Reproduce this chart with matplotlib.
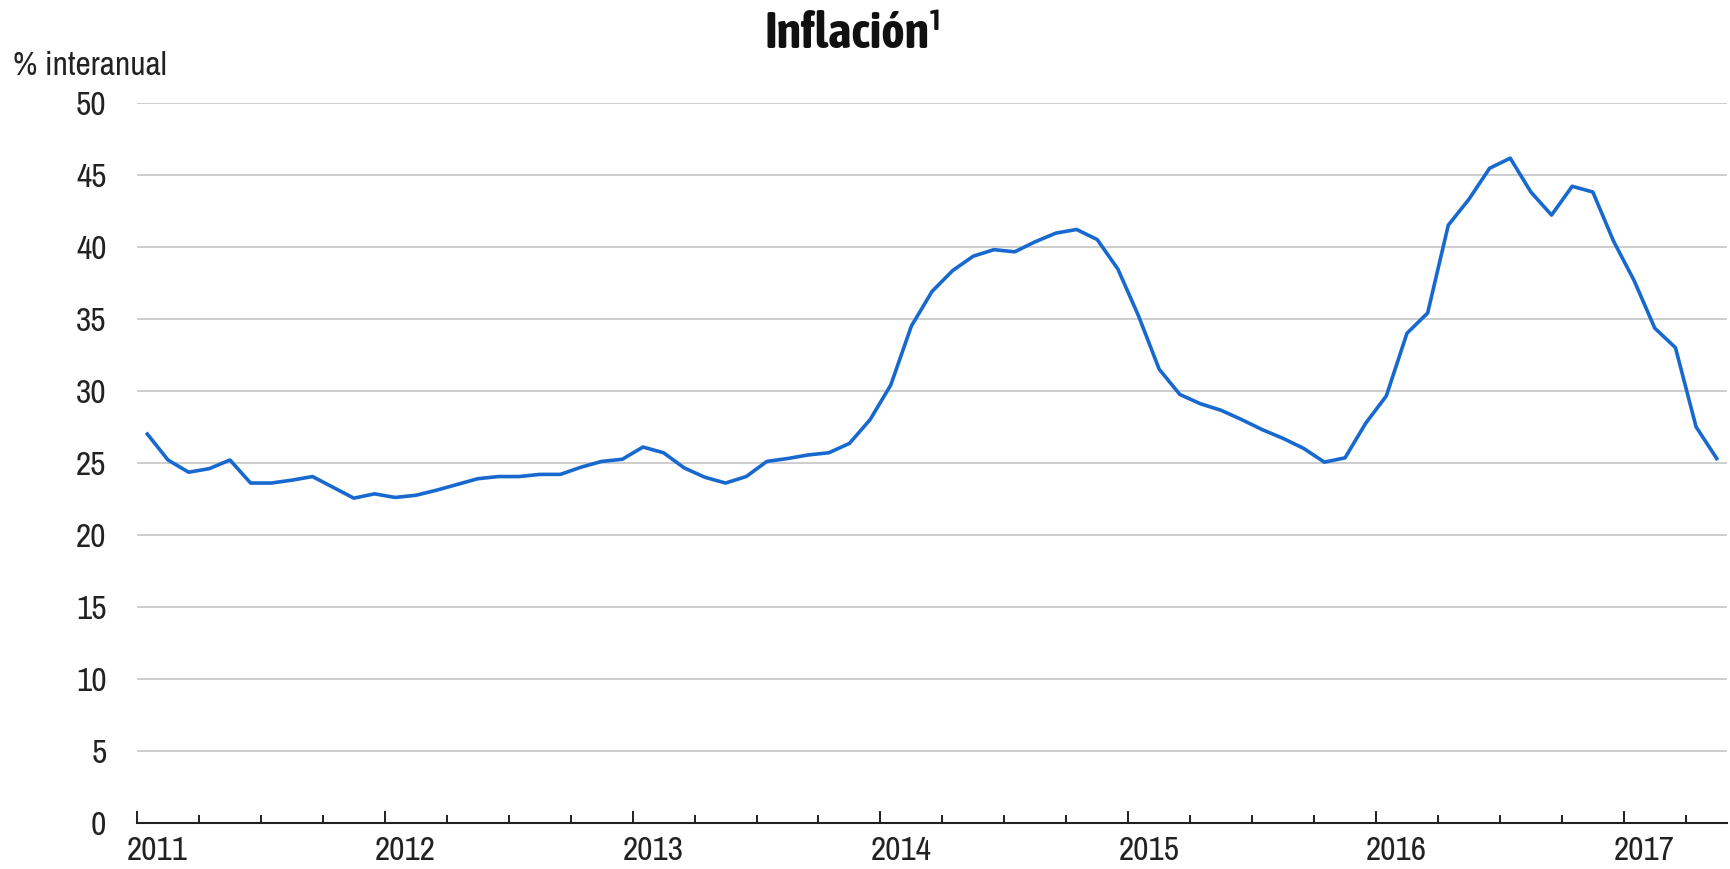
import numpy as np
import matplotlib
matplotlib.use('Agg')
from matplotlib import pyplot as plt
from matplotlib import transforms
from matplotlib import font_manager

# fuente estrecha si existe; si no, Liberation Sans algo más pequeña
fuentes = font_manager.fontManager.ttflist
def peso(f):
    w = f.weight
    return w if isinstance(w, int) else font_manager.weight_dict.get(w, 400)

estrechas = sorted({f.name for f in fuentes if 'Narrow' in f.name or 'Condensed' in f.name})
negritas = sorted({f.name for f in fuentes if f.name in estrechas and peso(f) >= 600})
if estrechas:
    fuente, esc = estrechas[0], 1.0
else:
    fuente, esc = 'Liberation Sans', 0.86
if negritas:
    fuente_tit, esc_tit = negritas[0], 1.0
else:
    fuente_tit, esc_tit = 'Liberation Sans', 0.86
plt.rcParams['font.family'] = [fuente, 'DejaVu Sans']

# Inflación interanual, datos mensuales (ene-2011 a may-2017)
anios = [2011, 2012, 2013, 2014, 2015, 2016, 2017]
v2011 = [27.0, 25.2, 24.35, 24.6, 25.2, 23.6, 23.6, 23.8, 24.05, 23.3, 22.55, 22.85]
v2012 = [22.6, 22.75, 23.1, 23.5, 23.9, 24.05, 24.05, 24.2, 24.2, 24.7, 25.1, 25.25]
v2013 = [26.1, 25.7, 24.65, 24.0, 23.6, 24.05, 25.1, 25.3, 25.55, 25.7, 26.35, 28.0]
v2014 = [30.4, 34.5, 36.9, 38.35, 39.35, 39.8, 39.65, 40.35, 40.95, 41.2, 40.5, 38.45]
v2015 = [35.2, 31.5, 29.75, 29.1, 28.65, 28.0, 27.3, 26.7, 26.0, 25.05, 25.35, 27.75]
v2016 = [29.65, 34.0, 35.4, 41.5, 43.3, 45.45, 46.15, 43.8, 42.2, 44.2, 43.8, 40.4]
v2017 = [37.65, 34.35, 33.0, 27.5, 25.3]
y_ticks = [0, 5, 10, 15, 20, 25, 30, 35, 40, 45, 50]

serie = v2011 + v2012 + v2013 + v2014 + v2015 + v2016 + v2017
# fecha decimal a mitad de cada mes
x = anios[0] + (np.arange(len(serie)) + 0.5) / 12

fig = plt.figure(figsize=(17.3, 8.69), dpi=100)
ax = fig.add_axes([0.0792, 0.0529, 0.9191, 0.8289])

ax.plot(x, serie, color='#1769cf', lw=2.6, solid_joinstyle='round')

ax.set_ylim(0, 50)
ax.set_xlim(anios[0], anios[-1] + 5 / 12)
ax.set_yticks(y_ticks)
ax.yaxis.grid(True, color='#c9c9c9', lw=1.3)
ax.set_axisbelow(True)

ax.set_xticks(anios)
ax.set_xticklabels([str(a) for a in anios])
ax.set_xticks(np.arange(anios[0], anios[-1] + 0.3, 0.25), minor=True)

for s in ['top', 'right', 'left']:
    ax.spines[s].set_visible(False)
ax.spines['bottom'].set_linewidth(1.5)
ax.spines['bottom'].set_color('#222222')

fs = 24 * esc
ax.tick_params(axis='y', length=0, pad=22, labelsize=fs, labelcolor='#222222')
ax.tick_params(axis='x', which='major', direction='in', length=8.6, width=1.4,
               pad=9, labelsize=fs, labelcolor='#222222', color='#222222')
ax.tick_params(axis='x', which='minor', direction='in', length=5.8, width=1.4,
               color='#222222')

# etiquetas de año desplazadas ~1 mes a la derecha
desp = transforms.ScaledTranslation(0.206, 0, fig.dpi_scale_trans)
for lbl in ax.get_xticklabels():
    lbl.set_transform(lbl.get_transform() + desp)

fig.text(13 / 1730, 1 - 75 / 869, '% interanual', fontsize=fs, color='#222222',
         ha='left', va='baseline')
fig.text(854 / 1730, 1 - 48 / 869, 'Inflación¹', fontsize=36 * esc_tit, fontweight='bold',
         family=[fuente_tit, 'DejaVu Sans'], color='#111111', ha='center', va='baseline')

fig.savefig('out.png', dpi=100)
